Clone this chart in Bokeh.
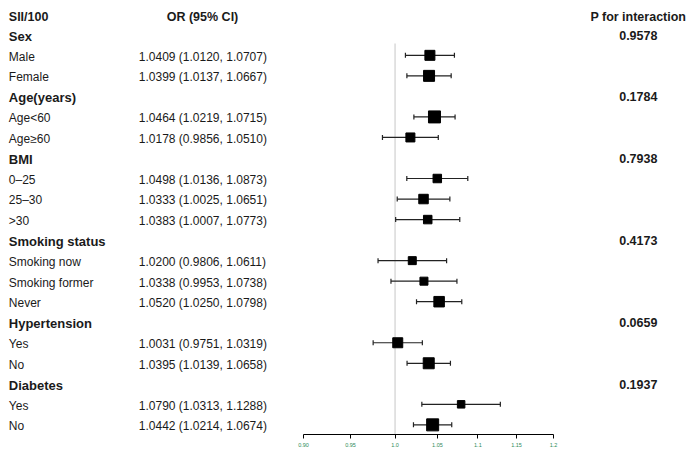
import math
from bokeh.plotting import figure
from bokeh.models import Range1d, FixedTicker, ColumnDataSource
from bokeh.core.properties import value
from bokeh.embed import file_html
from bokeh.resources import INLINE

# ---------------- data ----------------
groups = ["Sex", "Age(years)", "BMI", "Smoking status", "Hypertension", "Diabetes"]
p_interaction = ["0.9578", "0.1784", "0.7938", "0.4173", "0.0659", "0.1937"]
subgroups = [
    ["Male", "Female"],
    ["Age<60", "Age≥60"],
    ["0–25", "25–30", ">30"],
    ["Smoking now", "Smoking former", "Never"],
    ["Yes", "No"],
    ["Yes", "No"],
]
or_est = [1.0409, 1.0399, 1.0464, 1.0178, 1.0498, 1.0333, 1.0383,
          1.0200, 1.0338, 1.0520, 1.0031, 1.0395, 1.0790, 1.0442]
or_low = [1.0120, 1.0137, 1.0219, 0.9856, 1.0136, 1.0025, 1.0007,
          0.9806, 0.9953, 1.0250, 0.9751, 1.0139, 1.0313, 1.0214]
or_high = [1.0707, 1.0667, 1.0715, 1.0510, 1.0873, 1.0651, 1.0773,
           1.0611, 1.0738, 1.0798, 1.0319, 1.0658, 1.1288, 1.0674]
x_ticks = [0.90, 0.95, 1.0, 1.05, 1.1, 1.15, 1.2]
x_tick_labels = ["0.90", "0.95", "1.0", "1.05", "1.1", "1.15", "1.2"]

# ---------------- layout / style ----------------
W, H = 695, 460
FRAME_BOTTOM = 434
AX_LEFT_PX, AX_RIGHT_PX = 303, 553
K = (AX_RIGHT_PX - AX_LEFT_PX) / math.log(x_ticks[-1] / x_ticks[0])
x_start = x_ticks[0] * math.exp(-AX_LEFT_PX / K)
x_end = x_ticks[0] * math.exp((W - AX_LEFT_PX) / K)

ROW0, PITCH = 35.7, 20.53
y_top = -ROW0 / PITCH
y_bot = (FRAME_BOTTOM - ROW0) / PITCH


def px(cx):
    return x_start * math.exp(cx / K)


box_px = [10, 11, 12, 9, 8.5, 9.5, 8.5, 8, 8, 10.5, 10, 11, 7.5, 12]

TXT = "#1a1a1a"
FONT = "Liberation Sans"

# rows
label_rows, label_txt, label_bold = [], [], []
grp_rows = []
sub_rows = []
r = 0
for g, subs in zip(groups, subgroups):
    grp_rows.append(r)
    label_rows.append(r); label_txt.append(g); label_bold.append(True)
    r += 1
    for s in subs:
        sub_rows.append(r)
        label_rows.append(r); label_txt.append(s); label_bold.append(False)
        r += 1

or_text = ["%.4f (%.4f, %.4f)" % (a, b, c) for a, b, c in zip(or_est, or_low, or_high)]

p = figure(width=W, height=H, x_axis_type="log", y_axis_location=None,
           x_range=Range1d(x_start, x_end), y_range=Range1d(y_bot, y_top),
           output_backend="svg", toolbar_location=None,
           min_border_left=0, min_border_right=0, min_border_top=0,
           min_border_bottom=H - FRAME_BOTTOM)
p.outline_line_color = None
p.grid.visible = False
p.background_fill_color = "white"
p.border_fill_color = "white"

ax = p.xaxis[0]
ax.ticker = FixedTicker(ticks=x_ticks, minor_ticks=[])
ax.major_label_overrides = {t: l for t, l in zip(x_ticks, x_tick_labels)}
ax.bounds = (x_ticks[0], x_ticks[-1])
ax.axis_line_color = "black"
ax.axis_line_width = 1
ax.major_tick_line_color = "black"
ax.major_tick_in = 0
ax.major_tick_out = 4
ax.minor_tick_line_color = None
ax.major_label_text_font_size = "5.5px"
ax.major_label_text_color = "#2e8b57"
ax.major_label_text_font = FONT
ax.major_label_standoff = 4

# reference line at 1.0
p.segment(x0=[1.0], x1=[1.0], y0=[(43 - ROW0) / PITCH], y1=[y_bot],
          line_color="#d9d9d9", line_width=1.5)

# CI lines + caps + boxes
yo = -1.4 / PITCH
cap = 2.5 / PITCH
yb = [v + yo for v in sub_rows]
ci = ColumnDataSource(dict(yb=yb, yc0=[v - cap for v in yb], yc1=[v + cap for v in yb],
                           est=or_est, lo=or_low, hi=or_high, sz=box_px))
p.segment(x0="lo", x1="hi", y0="yb", y1="yb", source=ci, line_color="#222222", line_width=1.2)
p.segment(x0="lo", x1="lo", y0="yc0", y1="yc1", source=ci, line_color="#222222", line_width=1.2)
p.segment(x0="hi", x1="hi", y0="yc0", y1="yc1", source=ci, line_color="#222222", line_width=1.2)
p.scatter(x="est", y="yb", size="sz", marker="square", source=ci,
          fill_color="black", line_color="black")

# header row
hdr_y = -0.93
p.text(x=[px(8.3)], y=[hdr_y], text=["SII/100"], text_font=value(FONT),
       text_font_size="12.5px", text_font_style="bold", text_color=TXT,
       text_baseline="middle", text_align="left")
p.text(x=[px(202)], y=[hdr_y], text=["OR (95% CI)"], text_font=value(FONT),
       text_font_size="12.5px", text_font_style="bold", text_color=TXT,
       text_baseline="middle", text_align="center")
p.text(x=[px(637.8)], y=[hdr_y], text=["P for interaction"], text_font=value(FONT),
       text_font_size="12.5px", text_font_style="bold", text_color=TXT,
       text_baseline="middle", text_align="center")

# labels
bold_r = [rr for rr, b in zip(label_rows, label_bold) if b]
bold_t = [t for t, b in zip(label_txt, label_bold) if b]
norm_r = [rr for rr, b in zip(label_rows, label_bold) if not b]
norm_t = [t for t, b in zip(label_txt, label_bold) if not b]
p.text(x=[px(8.3)] * len(bold_r), y=bold_r, text=bold_t, text_font=value(FONT),
       text_font_size="13px", text_font_style="bold", text_color=TXT,
       text_baseline="middle", text_align="left")
p.text(x=[px(8.3)] * len(norm_r), y=norm_r, text=norm_t, text_font=value(FONT),
       text_font_size="12px", text_color=TXT,
       text_baseline="middle", text_align="left")
p.text(x=[px(138.3)] * len(sub_rows), y=sub_rows, text=or_text, text_font=value(FONT),
       text_font_size="12px", text_color=TXT,
       text_baseline="middle", text_align="left")
p.text(x=[px(637.8)] * len(grp_rows), y=[g - 0.05 for g in grp_rows], text=p_interaction,
       text_font=value(FONT), text_font_size="12.5px", text_font_style="bold",
       text_color=TXT, text_baseline="middle", text_align="center")

open("out.html", "w").write(file_html(p, INLINE))
